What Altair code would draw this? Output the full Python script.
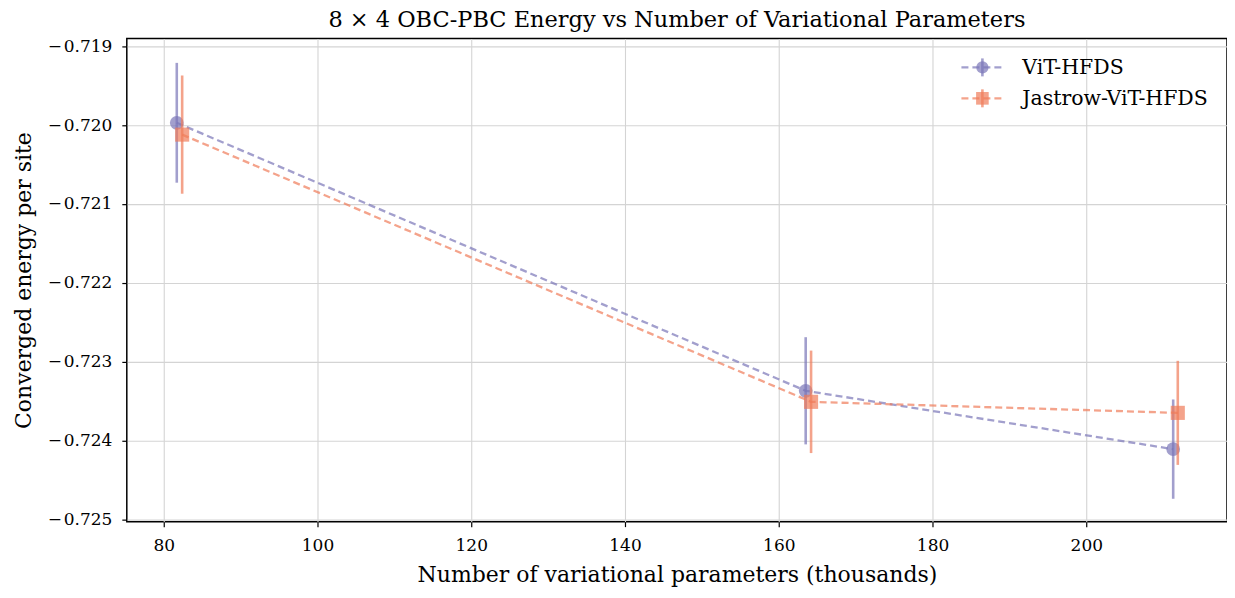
import altair as alt
import pandas as pd

series_names = ["ViT-HFDS", "Jastrow-ViT-HFDS"]
series_colors = ["#7b76b8", "#f07c5a"]
series_shapes = ["circle", "square"]

params_vit = [81.7, 163.5, 211.3]
energy_vit = [-0.71997, -0.72337, -0.72411]
err_vit = [0.00076, 0.00068, 0.00063]

params_jas = [82.4, 164.2, 211.9]
energy_jas = [-0.72012, -0.72351, -0.72365]
err_jas = [0.00075, 0.00065, 0.00066]

x_ticks = [80, 100, 120, 140, 160, 180, 200]
y_ticks = [-0.719, -0.720, -0.721, -0.722, -0.723, -0.724, -0.725]

FONT = "DejaVu Serif"
W, H = 1102, 484

xs = alt.Scale(domain=[75.2, 218.3], nice=False, zero=False)
ys = alt.Scale(domain=[-0.72503, -0.71890], nice=False, zero=False)


def series_layers(name, xv, yv, ev, color, shape):
    df = pd.DataFrame({"x": xv, "y": yv, "lo": [a - b for a, b in zip(yv, ev)],
                       "hi": [a + b for a, b in zip(yv, ev)], "s": [name] * len(xv)})
    base = alt.Chart(df)
    line = base.mark_line(color=color, opacity=0.7, strokeWidth=2.3, strokeDash=[7, 4]).encode(
        x=alt.X("x:Q", scale=xs,
                axis=alt.Axis(values=x_ticks, title="Number of variational parameters (thousands)",
                              format="d", labelPadding=11, titlePadding=11)),
        y=alt.Y("y:Q", scale=ys,
                axis=alt.Axis(values=y_ticks, title="Converged energy per site", format=".3f",
                              labelExpr="replace(datum.label, '\u2212', '\u2212\u200a')",
                              labelPadding=10, titlePadding=12)),
        order="x:Q",
    )
    err = base.mark_rule(color=color, opacity=0.7, strokeWidth=2.6).encode(
        x="x:Q", y="lo:Q", y2="hi:Q")
    pts = base.mark_point(shape=shape, filled=True, color=color, opacity=0.7,
                          size=190 if shape == "circle" else 200).encode(x="x:Q", y="y:Q")
    return [line, err, pts]


layers = []
layers += series_layers(series_names[0], params_vit, energy_vit, err_vit, series_colors[0], series_shapes[0])
layers += series_layers(series_names[1], params_jas, energy_jas, err_jas, series_colors[1], series_shapes[1])

# legend (manual, matplotlib style)
leg_y = [29, 60]
for i, name in enumerate(series_names):
    c = series_colors[i]
    d = pd.DataFrame({"name": [name]})
    lb = alt.Chart(d)
    layers.append(lb.mark_rule(color=c, opacity=0.7, strokeWidth=2.3, strokeDash=[7, 4]).encode(
        x=alt.value(836), x2=alt.value(878), y=alt.value(leg_y[i])))
    layers.append(lb.mark_rule(color=c, opacity=0.7, strokeWidth=2.6).encode(
        x=alt.value(857), y=alt.value(leg_y[i] - 9), y2=alt.value(leg_y[i] + 9)))
    layers.append(lb.mark_point(shape=series_shapes[i], filled=True, color=c, opacity=0.7,
                                size=150 if i == 0 else 160).encode(
        x=alt.value(857), y=alt.value(leg_y[i])))
    layers.append(lb.mark_text(align="left", baseline="middle", font=FONT, fontSize=20.5,
                               color="black").encode(
        x=alt.value(897), y=alt.value(leg_y[i] + 1), text="name:N"))

chart = alt.layer(*layers).properties(
    width=W, height=H,
    title=alt.TitleParams("8 × 4 OBC-PBC Energy vs Number of Variational Parameters",
                          font=FONT, fontSize=22.5, fontWeight="normal", color="black",
                          anchor="middle", offset=6),
    autosize=alt.AutoSizeParams(type="none"),
    padding={"left": 119, "top": 30, "right": 0, "bottom": 75},
).configure_view(stroke="black", strokeWidth=1.5).configure_axis(
    labelFont=FONT, labelFontSize=17, labelColor="black",
    titleFont=FONT, titleFontSize=22, titleFontWeight="normal", titleColor="black",
    grid=True, gridColor="#d4d4d4", gridWidth=1.1,
    tickColor="black", tickSize=5, tickWidth=1.2,
    domain=False,
)

chart.save("out.html", embed_options={"renderer": "svg", "actions": False})
